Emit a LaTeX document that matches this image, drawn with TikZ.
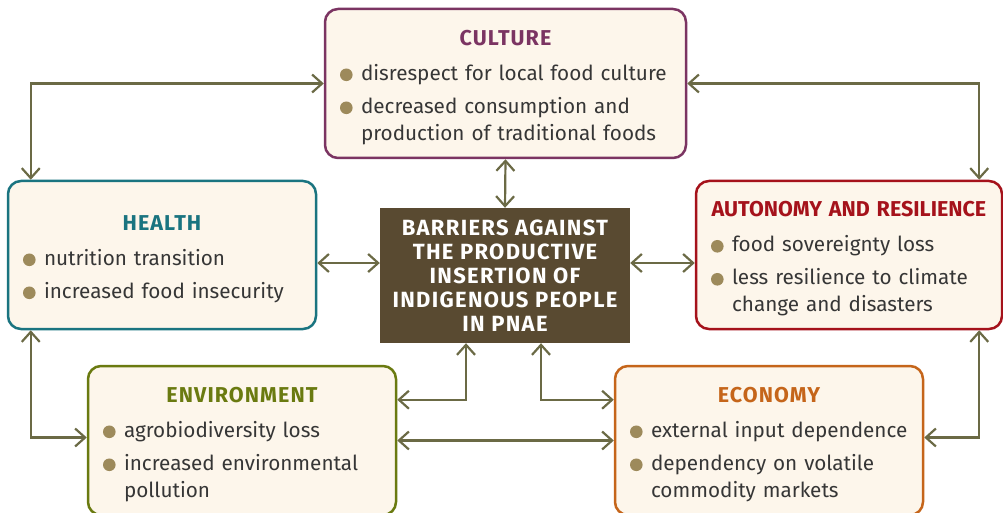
\documentclass[tikz,border=0pt]{standalone}
\usepackage{fontspec}
\setmainfont{Fira Sans}
\usetikzlibrary{arrows.meta}

\definecolor{culc}{HTML}{7B3462}
\definecolor{healc}{HTML}{1A7480}
\definecolor{autc}{HTML}{A5121B}
\definecolor{envc}{HTML}{6A7A10}
\definecolor{ecoc}{HTML}{C5651A}
\definecolor{boxfill}{HTML}{FDF6EB}
\definecolor{hubfill}{HTML}{594A31}
\definecolor{arrc}{HTML}{6B6A45}
\definecolor{bulc}{HTML}{9D8A5B}
\definecolor{bodytext}{HTML}{363636}

% box heading and bullet line
\newcommand{\ttl}[3][5]{\par\vspace*{-4pt}{\centering\fontsize{21.5}{27}\selectfont\bfseries
  \addfontfeatures{LetterSpace=#1}\color{#2}#3\par}\vspace{2pt}}
\newcommand{\bul}[1]{\par\vspace{6pt}\noindent
  \makebox[21pt][l]{\tikz[baseline=-5.5pt]\fill[bulc] (6pt,0pt) circle (6.3pt);}%
  \parbox[t]{\dimexpr\hsize-21pt\relax}{\raggedright #1}\par}

\begin{document}
\begin{tikzpicture}[x=1pt, y=-1pt,
  box/.style={draw=#1, line width=2.5pt, fill=boxfill, rounded corners=13pt,
    inner xsep=15pt, inner ysep=0pt, align=left, text=bodytext,
    font=\fontsize{20.7}{27}\selectfont},
  hub/.style={fill=hubfill, text=white, align=center, inner sep=0pt,
    font=\fontsize{22}{24}\selectfont\bfseries\addfontfeatures{LetterSpace=6}},
  conn/.style={draw=arrc, line width=2.2pt,
    {Straight Barb[length=10pt,width=18pt]}-{Straight Barb[length=10pt,width=18pt]}}
]
\useasboundingbox (0,0) rectangle (1003,513);

\node[hub, minimum width=250pt, minimum height=135pt] (hub) at (505,275.5)
  {BARRIERS AGAINST\\THE PRODUCTIVE\\INSERTION OF\\INDIGENOUS PEOPLE\\IN PNAE};

\node[box=culc, text width=331pt, minimum height=149pt] (culture) at (505.5,83.5)
  {\ttl{culc}{CULTURE}\bul{disrespect for local food culture}
   \bul{decreased consumption and\\ production of traditional foods}};
\node[box=healc, text width=278pt, minimum height=148pt] (health) at (162,255)
  {\ttl{healc}{HEALTH}\bul{nutrition transition}
   \bul{increased food insecurity}};
\node[box=autc, text width=276pt, minimum height=148pt] (autonomy) at (849,255)
  {\ttl[0]{autc}{AUTONOMY AND RESILIENCE}\bul{food sovereignty loss}
   \bul{less resilience to climate\\ change and disasters}};
\node[box=envc, text width=278pt, minimum height=149pt] (env) at (242,440.5)
  {\ttl{envc}{ENVIRONMENT}\bul{agrobiodiversity loss}
   \bul{increased environmental\\ pollution}};
\node[box=ecoc, text width=278pt, minimum height=149pt] (economy) at (769,440.5)
  {\ttl{ecoc}{ECONOMY}\bul{external input dependence}
   \bul{dependency on volatile\\ commodity markets}};

% two-way links
\draw[conn] (culture.west) -| ([xshift=24pt]health.north west);
\draw[conn] (culture.east) -| ([xshift=-24pt]autonomy.north east);
\draw[conn] (culture.south) -- (hub.north);
\draw[conn] ([yshift=-8pt]health.east) -- ([yshift=-8pt]health.east -| hub.west);
\draw[conn] ([yshift=-8pt]autonomy.west -| hub.east) -- ([yshift=-8pt]autonomy.west);
\draw[conn] ([xshift=24pt]health.south west) |- ([yshift=3pt]env.west);
\draw[conn] ([xshift=-24pt]autonomy.south east) |- ([yshift=3pt]economy.east);
\draw[conn] ([xshift=-39pt]hub.south) |- ([yshift=-35pt]env.north east);
\draw[conn] ([xshift=36pt]hub.south) |- ([yshift=-35pt]economy.north west);
\draw[conn] (env.east) -- (economy.west);
\end{tikzpicture}
\end{document}
